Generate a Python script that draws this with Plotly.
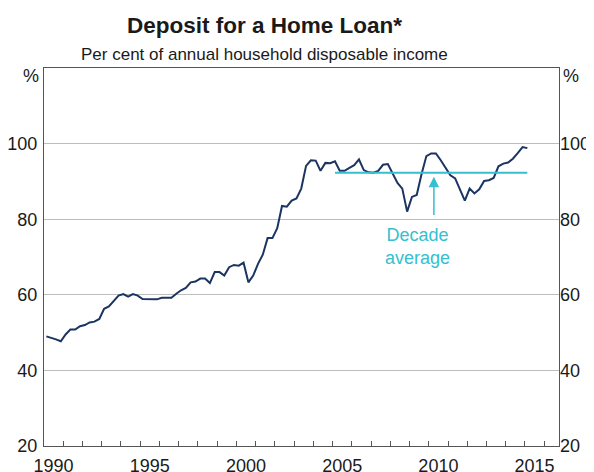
import pandas as pd
import plotly.graph_objects as go

# Quarterly data, March quarter 1990 to March quarter 2015
quarters = pd.period_range("1990Q1", "2015Q1", freq="Q")
deposit = [
    49.0, 48.5, 48.2, 47.7, 49.5, 50.8, 50.8, 51.7, 52.0, 52.7,
    52.9, 53.6, 56.3, 56.9, 58.5, 59.8, 60.2, 59.5, 60.2, 59.8,
    58.9, 58.9, 58.9, 58.8, 59.2, 59.2, 59.2, 60.3, 61.2, 61.8,
    63.3, 63.5, 64.3, 64.3, 63.1, 66.0, 66.0, 65.1, 67.3, 67.9,
    67.7, 68.5, 63.3, 65.1, 68.2, 70.6, 75.0, 75.0, 77.6, 83.5,
    83.3, 84.9, 85.5, 88.1, 94.1, 95.6, 95.5, 92.8, 94.9, 94.8,
    95.3, 92.8, 92.8, 93.6, 94.3, 95.8, 93.0, 92.4, 92.3, 92.8,
    94.4, 94.6, 92.1, 89.6, 88.1, 82.0, 85.9, 86.4, 91.9, 96.7,
    97.4, 97.4, 95.6, 93.4, 91.6, 90.8, 87.7, 84.9, 88.1, 86.8,
    87.9, 90.1, 90.3, 90.9, 94.0, 94.7, 95.0, 96.0, 97.5, 99.1,
    98.8,
]
decade_quarters = ["2005Q1", "2015Q1"]
decade_average = 92.3

year_labels = ["1990", "1995", "2000", "2005", "2010", "2015"]
y_ticks = [20, 40, 60, 80, 100]

def mid_quarter(p):
    p = pd.Period(p, freq="Q")
    return p.start_time + (p.end_time - p.start_time) / 2

x_dates = [mid_quarter(q) for q in quarters]
avg_x = [mid_quarter(q) for q in decade_quarters]

NAVY = "#1b3461"
CYAN = "#35bfd0"
AXC = "#555555"
FONT = "Liberation Sans, Arial, sans-serif"
TXT = "#1a1a1a"
X_RANGE = ["1990-01-01", "2016-10-08"]

# the page body has an 8px margin, so the figure is offset by 8px
fig = go.Figure()
fig.add_trace(go.Scatter(x=x_dates, y=deposit, mode="lines",
                         line=dict(color=NAVY, width=2), showlegend=False,
                         hoverinfo="skip"))
fig.add_trace(go.Scatter(x=avg_x, y=[decade_average] * 2, mode="lines",
                         line=dict(color=CYAN, width=2), showlegend=False,
                         hoverinfo="skip", xaxis="x2", yaxis="y2"))

fig.update_layout(
    width=586, height=464,
    margin=dict(l=36, r=35, t=60, b=26, autoexpand=False),
    paper_bgcolor="white", plot_bgcolor="white",
    font=dict(family=FONT, color=TXT, size=18),
    xaxis=dict(
        type="date", range=X_RANGE, automargin=False,
        tickmode="array",
        tickvals=[f"{y}-01-01" for y in range(1991, 2017)],
        showticklabels=False,
        ticks="inside", ticklen=5, tickcolor=AXC, tickwidth=1,
        showgrid=False, zeroline=False,
        showline=True, linecolor=AXC, linewidth=1, mirror=True,
    ),
    xaxis2=dict(
        type="date", range=X_RANGE, automargin=False,
        overlaying="x", side="bottom",
        tickmode="array",
        tickvals=[f"{y}-07-02" for y in year_labels],
        ticktext=year_labels,
        ticks="", ticklabelstandoff=7,
        showgrid=False, zeroline=False, showline=False,
        tickfont=dict(size=18, color=TXT),
    ),
    yaxis=dict(
        range=[20, 120], automargin=False,
        tickmode="array", tickvals=y_ticks,
        ticks="", ticklabelstandoff=2,
        showgrid=True, gridcolor="#bdbdbd", gridwidth=1,
        zeroline=False,
        showline=True, linecolor=AXC, linewidth=1, mirror=True,
        tickfont=dict(size=18, color=TXT),
    ),
    yaxis2=dict(
        range=[20, 120], automargin=False,
        overlaying="y", side="right",
        tickmode="array", tickvals=y_ticks,
        ticks="", ticklabelstandoff=0,
        showgrid=False, zeroline=False, showline=False,
        tickfont=dict(size=18, color=TXT),
    ),
)

TX = (264 - 44) / 515
annotations = [
    dict(text="<b>Deposit for a Home Loan*</b>", xref="paper", yref="paper",
         x=TX, y=(446 - 25) / 378, xanchor="center", yanchor="middle",
         showarrow=False, font=dict(size=22.5, color=TXT)),
    dict(text="Per cent of annual household disposable income", xref="paper",
         yref="paper", x=TX, y=(446 - 54) / 378, xanchor="center",
         yanchor="middle", showarrow=False, font=dict(size=17, color=TXT)),
    dict(text="%", xref="paper", yref="paper", x=-3 / 515, y=(446 - 76) / 378,
         xanchor="right", yanchor="middle", showarrow=False,
         font=dict(size=18, color=TXT)),
    dict(text="%", xref="paper", yref="paper", x=1 + 2 / 515, y=(446 - 76) / 378,
         xanchor="left", yanchor="middle", showarrow=False,
         font=dict(size=18, color=TXT)),
    dict(text="Decade<br>average", xref="x", yref="y", x="2009-05-30", y=72.7,
         xanchor="center", yanchor="middle", showarrow=False,
         font=dict(size=18, color=CYAN)),
    dict(text="", xref="x", yref="y", x="2010-04-08", y=91.2,
         axref="x", ayref="y", ax="2010-04-08", ay=80.7,
         showarrow=True, arrowhead=2, arrowsize=1.4, arrowwidth=1.5,
         arrowcolor=CYAN),
]
fig.update_layout(annotations=annotations)

fig.write_html("out.html")
